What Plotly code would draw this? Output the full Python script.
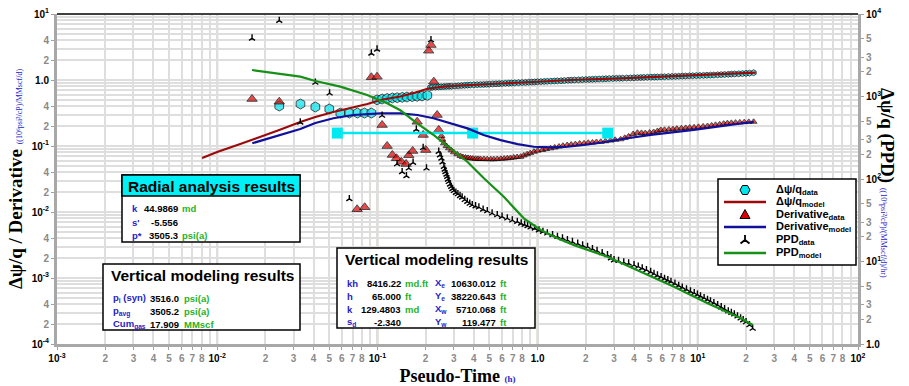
import plotly.graph_objects as go

# ---------------- data ----------------
dpq_data_x = [0.0244, 0.0331, 0.041, 0.0501, 0.0587, 0.0668, 0.075, 0.083, 0.0917,
              0.0995, 0.107, 0.115, 0.124, 0.133, 0.143, 0.153, 0.165, 0.177, 0.190, 0.205,
              0.214, 0.22, 0.23, 0.24, 0.25, 0.26, 0.27, 0.28, 0.29, 0.305, 0.32, 0.335, 0.35,
              0.365, 0.38, 0.40, 0.42, 0.44, 0.46, 0.48, 0.5, 0.525, 0.55, 0.575, 0.6, 0.63,
              0.66, 0.69, 0.72, 0.76, 0.8, 0.84, 0.88, 0.92, 0.96, 1.0, 1.05, 1.1, 1.15, 1.21,
              1.27, 1.33, 1.4, 1.47, 1.55, 1.62, 1.7, 1.8, 1.9, 2.0, 2.1, 2.2, 2.3, 2.42, 2.55,
              2.67, 2.8, 2.95, 3.1, 3.25, 3.4, 3.6, 3.8, 4.0, 4.2, 4.4, 4.6, 4.85, 5.1, 5.35,
              5.6, 5.9, 6.2, 6.55, 6.9, 7.25, 7.6, 8.0, 8.4, 8.85, 9.3, 9.8, 10.3, 10.85, 11.4,
              12.0, 12.6, 13.3, 14.0, 14.7, 15.5, 16.2, 17.0, 18.0, 19.0, 20.0, 21.0, 22.3]
dpq_data_y = [0.404, 0.433, 0.39, 0.364, 0.316, 0.316, 0.316, 0.316, 0.316,
              0.50, 0.515, 0.525, 0.535, 0.54, 0.546, 0.552, 0.56, 0.566, 0.573, 0.585,
              0.77, 0.775, 0.78, 0.785, 0.79, 0.795, 0.80, 0.803, 0.805, 0.81, 0.815, 0.822, 0.83,
              0.835, 0.84, 0.845, 0.85, 0.852, 0.855, 0.86, 0.865, 0.87, 0.875, 0.88, 0.885, 0.89,
              0.895, 0.9, 0.905, 0.91, 0.915, 0.92, 0.925, 0.93, 0.935, 0.94, 0.945, 0.95, 0.955, 0.96,
              0.965, 0.97, 0.975, 0.982, 0.99, 0.995, 1.0, 1.005, 1.01, 1.015, 1.02, 1.025, 1.03, 1.035, 1.04,
              1.045, 1.05, 1.055, 1.06, 1.062, 1.065, 1.07, 1.075, 1.08, 1.085, 1.09, 1.095, 1.1, 1.105, 1.108,
              1.11, 1.115, 1.12, 1.125, 1.13, 1.135, 1.14, 1.145, 1.15, 1.155, 1.16, 1.165, 1.17, 1.175, 1.18,
              1.185, 1.19, 1.198, 1.205, 1.212, 1.22, 1.228, 1.235, 1.242, 1.25, 1.26, 1.27, 1.29]

dpq_model_x = [0.00805, 0.01, 0.01393, 0.01858, 0.0244, 0.033, 0.041, 0.0531, 0.0678, 0.0866,
               0.1045, 0.139, 0.173, 0.208, 0.266, 0.365, 0.588, 0.944, 1.61, 3.30, 5.87, 10.0,
               16.1, 23.0]
dpq_model_y = [0.0658, 0.0811, 0.107, 0.137, 0.175, 0.231, 0.275, 0.327, 0.377, 0.433,
               0.498, 0.562, 0.647, 0.743, 0.798, 0.840, 0.885, 0.933, 1.0, 1.062, 1.117, 1.17,
               1.233, 1.29]

deriv_data_x = [0.0165, 0.0244, 0.0747, 0.0833, 0.0917, 0.0995, 0.107, 0.115, 0.124, 0.1315,
                0.141, 0.151, 0.157, 0.166, 0.177, 0.193, 0.2005, 0.209, 0.216, 0.225, 0.236,
                0.2415,
                0.251, 0.255, 0.26, 0.27, 0.279, 0.29, 0.300, 0.315, 0.33, 0.342, 0.355, 0.368,
                0.381, 0.395, 0.41, 0.425, 0.44, 0.462, 0.485, 0.51, 0.533, 0.56, 0.59, 0.618,
                0.647, 0.678, 0.71, 0.745, 0.784, 0.82, 0.86, 0.90, 0.949, 1.0, 1.07, 1.13, 1.205,
                1.28, 1.36, 1.44, 1.53, 1.62, 1.72, 1.83, 1.95, 2.07, 2.2, 2.33, 2.48, 2.65, 2.85,
                3.05, 3.3, 3.5, 3.7, 3.95, 4.2, 4.45, 4.7, 5.0, 5.3, 5.6, 5.87, 6.2, 6.6, 7.0, 7.4,
                7.9, 8.4, 8.9, 9.48, 10.1, 10.8, 11.5, 12.2, 12.9, 13.7, 14.5, 15.3, 16.2, 17.2,
                18.3, 19.5, 20.8, 22.3]
deriv_data_y = [0.515, 0.469, 0.0110, 0.0118, 1.10, 1.12, 0.208, 0.100, 0.0731, 0.0652,
                0.0578, 0.0534, 0.0723, 0.0840, 0.233, 0.147, 0.0869, 2.78, 3.39, 0.942, 0.295,
                0.175,
                0.142, 0.125, 0.110, 0.100, 0.0923, 0.086, 0.0803, 0.075, 0.0705, 0.068, 0.067, 0.066,
                0.0651, 0.0645, 0.064, 0.0638, 0.0636, 0.0634, 0.0632, 0.063, 0.063, 0.0635, 0.064, 0.0645,
                0.0652, 0.066, 0.067, 0.068, 0.0689, 0.072, 0.075, 0.078, 0.082, 0.085, 0.087, 0.09, 0.0922,
                0.095, 0.098, 0.101, 0.1035, 0.105, 0.107, 0.109, 0.110, 0.112, 0.113, 0.115, 0.116, 0.118, 0.121,
                0.124, 0.1264, 0.133, 0.14, 0.152, 0.159, 0.158, 0.157, 0.160, 0.163, 0.169, 0.175, 0.176, 0.178,
                0.18, 0.183, 0.186, 0.188, 0.19, 0.192, 0.195, 0.198, 0.201, 0.205, 0.209, 0.213, 0.218, 0.222,
                0.224, 0.226, 0.228, 0.230, 0.232, 0.233]

deriv_model_x = [0.01656, 0.02143, 0.0330, 0.0410, 0.0531, 0.0708, 0.1045, 0.139, 0.178, 0.224,
                 0.286, 0.365, 0.460, 0.588, 0.750, 0.944, 1.205, 1.54, 1.94, 2.48, 3.30, 5.08,
                 9.44, 15.0, 22.4]
deriv_model_y = [0.110, 0.132, 0.181, 0.223, 0.263, 0.295, 0.313, 0.313, 0.295, 0.263,
                 0.221, 0.185, 0.147, 0.123, 0.107, 0.0975, 0.0955, 0.0975, 0.1035, 0.112, 0.1265, 0.147,
                 0.175, 0.205, 0.233]

ppd_data_x = [0.0165, 0.0244, 0.033, 0.041, 0.0503, 0.0668, 0.0917, 0.0995, 0.107, 0.1327,
              0.1427, 0.1518, 0.157, 0.167, 0.175, 0.193, 0.2025, 0.216,
              0.2415, 0.246, 0.251, 0.255, 0.26, 0.263, 0.266, 0.27, 0.273, 0.276, 0.279, 0.284,
              0.289, 0.294, 0.300, 0.309, 0.318, 0.328, 0.338, 0.351, 0.364, 0.377, 0.391, 0.41,
              0.43, 0.457, 0.485, 0.52, 0.56, 0.60, 0.647, 0.695, 0.747, 0.79, 0.83, 0.866, 0.904,
              0.96, 1.02, 1.08, 1.15, 1.24, 1.33, 1.43, 1.535, 1.65, 1.78, 1.91, 2.05, 2.2, 2.35,
              2.53, 2.73, 2.87, 3.0, 3.2, 3.45, 3.7, 4.0, 4.25, 4.5, 4.78, 5.08, 5.33, 5.6, 5.9,
              6.2, 6.5, 6.8, 7.2, 7.6, 8.0, 8.5, 9.0, 9.5, 9.95, 10.4, 10.95, 11.5, 12.0, 12.6,
              13.3, 14.0, 14.7, 15.5, 16.2, 16.9, 17.7, 18.5, 19.2, 20.0, 21.0, 22.0]
ppd_data_y = [5070, 8300, 486, 1479, 1094, 57.3, 3333, 3733, 589, 152,
              122, 109, 135, 158, 400, 239, 135, 4840,
              215, 195, 178, 160, 141, 131, 122, 114, 107, 99, 92.7, 86,
              80.7, 76, 72.1, 68.5, 65.8, 62.5, 60.0, 56.0, 53.1, 50.5, 48.4, 47.0,
              45.4, 42.8, 40.9, 38.4, 36.6, 35.0, 33.4, 31.6, 30.4, 29.0, 28.0, 27.0, 26.0,
              25.2, 24.0, 23.0, 22.0, 21.0, 20.0, 19.2, 18.2, 17.3, 16.5, 15.7, 15.1, 14.2, 13.5,
              12.7, 12.0, 11.0, 10.4, 10.2, 9.8, 9.5, 9.07, 8.7, 8.3, 7.9, 7.5, 7.1, 6.8, 6.5,
              6.2, 5.95, 5.7, 5.4, 5.1, 4.85, 4.6, 4.35, 4.15, 3.97, 3.8, 3.62, 3.45, 3.3, 3.15,
              2.97, 2.8, 2.65, 2.5, 2.4, 2.3, 2.17, 2.05, 1.95, 1.85, 1.7, 1.54]

ppd_model_x = [0.0165, 0.033, 0.041, 0.0587, 0.0863, 0.115, 0.139, 0.177, 0.225, 0.286,
               0.364, 0.462, 0.615, 0.82, 1.045, 1.33, 1.69, 2.73, 4.4, 7.1, 11.5, 18.6, 22.0]
ppd_model_y = [2095, 1738, 1542, 1316, 1042, 828, 681, 473, 341, 236,
               162, 102, 61, 33.4, 24.1, 19.1, 15.8, 11.4, 7.52, 4.94, 3.11, 2.05, 1.70]

radial_x = [0.0562, 0.393, 2.74]
radial_y = [0.157, 0.157, 0.157]

legend_labels = ["Δψ/q<sub>data</sub>", "Δψ/q<sub>model</sub>", "Derivative<sub>data</sub>",
                 "Derivative<sub>model</sub>", "PPD<sub>data</sub>", "PPD<sub>model</sub>"]

# ---------------- helpers ----------------
W, H = 909, 386
L, R, T, B = 57, 858, 14, 344
FONT = "Liberation Sans"
SERIF = "Liberation Serif"
BLUE = "#2323c8"
GREEN = "#1fb31f"
GREY = "#8a8a8a"
C_DPQ = "#00e5ee"
C_DPQ_M = "#9b0a0a"
C_DER = "#e00000"
C_DER_M = "#10109a"
C_PPD_M = "#169016"


def px(x):
    return (x - L) / (R - L)


def py(y):
    return (B - y) / (B - T)


def sup(e):
    return "10<sup>%s</sup>" % e


def grey(s):
    return "<span style='color:%s'>%s</span>" % (GREY, s)


# x ticks
x_vals, x_text, x_minor = [], [], []
dec_lbl = {-3: sup("-3"), -2: sup("-2"), -1: sup("-1"), 0: "1.0", 1: sup("1"), 2: sup("2")}
for k in range(-3, 3):
    x_vals.append(10.0 ** k)
    x_text.append(dec_lbl[k])
    if k < 2:
        for d in range(2, 10):
            if d <= 8:
                x_vals.append(d * 10.0 ** k)
                x_text.append(grey(str(d)))
            else:
                x_minor.append(d * 10.0 ** k)

# left y ticks
yl_vals, yl_text, yl_minor = [], [], []
ydec = {1: sup("1"), 0: "1.0", -1: sup("-1"), -2: sup("-2"), -3: sup("-3"), -4: sup("-4")}
for k in range(-4, 2):
    yl_vals.append(10.0 ** k)
    yl_text.append(ydec[k])
    if k < 1:
        for d in range(2, 10):
            if d in (2, 4):
                yl_vals.append(d * 10.0 ** k)
                yl_text.append(grey(str(d)))
            else:
                yl_minor.append(d * 10.0 ** k)

# right y ticks
yr_vals, yr_text = [], []
rdec = {0: "1.0", 1: sup("1"), 2: sup("2"), 3: sup("3"), 4: sup("4")}
for k in range(0, 5):
    yr_vals.append(10.0 ** k)
    yr_text.append(rdec[k])
    if k < 4:
        for d in (2, 3, 5):
            yr_vals.append(d * 10.0 ** k)
            yr_text.append(grey(str(d)))

fig = go.Figure()

dpq_sizes = [10 if x < 0.21 else 6 for x in dpq_data_x]
fig.add_trace(go.Scatter(x=dpq_data_x, y=dpq_data_y, mode="markers", name=legend_labels[0],
                         showlegend=False,
                         marker=dict(symbol="hexagon", size=dpq_sizes, color=C_DPQ,
                                     line=dict(color="black", width=1))))
der_sizes = [9 if (x < 0.245) else 6 for x in deriv_data_x]
fig.add_trace(go.Scatter(x=deriv_data_x, y=deriv_data_y, mode="markers", name=legend_labels[2],
                         showlegend=False,
                         marker=dict(symbol="triangle-up", size=der_sizes, color=C_DER,
                                     line=dict(color="black", width=1))))
fig.add_trace(go.Scatter(x=radial_x, y=radial_y, mode="lines+markers", showlegend=False,
                         line=dict(color="#00e8f0", width=2.5),
                         marker=dict(symbol="square", size=11, color="#00e8f0")))
fig.add_trace(go.Scatter(x=dpq_model_x, y=dpq_model_y, mode="lines", name=legend_labels[1],
                         showlegend=False, line=dict(color=C_DPQ_M, width=2.2)))
fig.add_trace(go.Scatter(x=deriv_model_x, y=deriv_model_y, mode="lines", name=legend_labels[3],
                         showlegend=False, line=dict(color=C_DER_M, width=2.2)))
fig.add_trace(go.Scatter(x=ppd_data_x, y=ppd_data_y, mode="markers", yaxis="y2",
                         name=legend_labels[4], showlegend=False,
                         marker=dict(symbol="y-up", size=5, color="black",
                                     line=dict(color="black", width=1.4))))
fig.add_trace(go.Scatter(x=ppd_model_x, y=ppd_model_y, mode="lines", yaxis="y2",
                         name=legend_labels[5], showlegend=False,
                         line=dict(color=C_PPD_M, width=2.2)))

tickfont = dict(family=FONT, size=10, color="black", weight="bold")
minor_grid = "#dedede"

fig.update_layout(
    width=W, height=H,
    margin=dict(l=L, r=W - R, t=T, b=H - B, autoexpand=False),
    paper_bgcolor="white", plot_bgcolor="white",
    font=dict(family=FONT, color="black"),
    xaxis=dict(type="log", range=[-3, 2], tickmode="array", tickvals=x_vals, ticktext=x_text,
               tickfont=tickfont, showgrid=True, gridcolor=minor_grid, gridwidth=1.5,
               ticks="outside", ticklen=3, tickcolor="#a0a0a0", automargin=False,
               showline=True, linecolor="#a8a8a8", linewidth=3, zeroline=False,
               minor=dict(tickmode="array", tickvals=x_minor, showgrid=True,
                          gridcolor=minor_grid, gridwidth=1.5, ticks=""),
               title=dict(text="<b>Pseudo-Time</b> <span style='font-size:9px;color:#2323c8'><b>(h)</b></span>",
                          font=dict(family=SERIF, size=18, color="black"), standoff=10)),
    yaxis=dict(type="log", range=[-4, 1], tickmode="array", tickvals=yl_vals, ticktext=yl_text,
               tickfont=tickfont, showgrid=True, gridcolor=minor_grid, gridwidth=1.5,
               ticks="outside", ticklen=3, tickcolor="#a0a0a0", automargin=False,
               showline=True, linecolor="#a8a8a8", linewidth=3, zeroline=False,
               minor=dict(tickmode="array", tickvals=yl_minor, showgrid=True,
                          gridcolor=minor_grid, gridwidth=1.5, ticks=""),
               title=dict(text="<b>Δψ/q / Derivative</b> <span style='font-size:8px;color:#2323c8'>((10⁶psi²/cP)/MMscf/d)</span>",
                          font=dict(family=SERIF, size=19, color="black"), standoff=4)),
    yaxis2=dict(type="log", range=[0, 4], overlaying="y", side="right", tickmode="array",
                tickvals=yr_vals, ticktext=yr_text, tickfont=tickfont, showgrid=False,
                ticks="outside", ticklen=3, tickcolor="#a0a0a0", automargin=False,
                showline=True, linecolor="#a8a8a8", linewidth=3, zeroline=False),
    showlegend=False,
)

shapes = []
for f in (0.2, 0.4, 0.6, 0.8):
    shapes.append(dict(type="line", xref="paper", yref="paper", x0=f, x1=f, y0=0, y1=1,
                       line=dict(color="#c4bcaa", width=2), layer="between"))
    shapes.append(dict(type="line", xref="paper", yref="paper", x0=0, x1=1, y0=f, y1=f,
                       line=dict(color="#c4bcaa", width=2), layer="between"))
shapes.append(dict(type="line", xref="paper", yref="paper", x0=0, x1=1, y0=1, y1=1,
                   line=dict(color="#404040", width=2)))

annotations = []


def box(x0, y0, x1, y1, fill="white"):
    shapes.append(dict(type="rect", xref="paper", yref="paper", x0=px(x0), x1=px(x1),
                       y0=py(y1), y1=py(y0), fillcolor=fill,
                       line=dict(color="black", width=1.5), layer="above"))


def txt(x, y, s, color="black", size=9.5, anchor="left"):
    annotations.append(dict(x=px(x), y=py(y), xref="paper", yref="paper", text=s,
                            showarrow=False, xanchor=anchor, yanchor="middle", borderpad=0,
                            font=dict(family=FONT, size=size, color=color, weight="bold")))


def path_shape(points, fill, line_color, width=1.0, closed=True):
    d = "M" + " L".join("%.5f,%.5f" % (px(a), py(b)) for a, b in points)
    if closed:
        d += " Z"
    shapes.append(dict(type="path", xref="paper", yref="paper", path=d,
                       fillcolor=fill, line=dict(color=line_color, width=width), layer="above"))


# Radial analysis box
box(122, 175, 300, 242)
box(122, 175, 300, 196, fill="#00f0f5")
txt(211, 186, "Radial analysis results", size=15.5, anchor="center")
txt(131, 209, "k", BLUE)
txt(179, 209, "44.9869", anchor="right")
txt(181, 209, "md", GREEN)
txt(131, 222, "s'", BLUE)
txt(179, 222, "-5.556", anchor="right")
txt(131, 235, "p*", BLUE)
txt(179, 235, "3505.3", anchor="right")
txt(181, 235, "psi(a)", GREEN)

# Vertical modeling (left)
box(103, 264, 300, 330)
txt(202, 275, "Vertical modeling results", size=15.5, anchor="center")
txt(112, 298, "p<sub>i</sub> (syn)", BLUE)
txt(180, 298, "3516.0", anchor="right")
txt(183, 298, "psi(a)", GREEN)
txt(112, 311, "p<sub>avg</sub>", BLUE)
txt(180, 311, "3505.2", anchor="right")
txt(183, 311, "psi(a)", GREEN)
txt(112, 324, "Cum<sub>gas</sub>", BLUE)
txt(180, 324, "17.909", anchor="right")
txt(183, 324, "MMscf", GREEN)

# Vertical modeling (middle)
box(337, 248, 535, 328)
txt(436, 259, "Vertical modeling results", size=15.5, anchor="center")
rows = [283, 296, 309, 322]
c1 = ["kh", "h", "k", "s<sub>d</sub>"]
v1 = ["8416.22", "65.000", "129.4803", "-2.340"]
u1 = ["md.ft", "ft", "md", ""]
c2 = ["X<sub>e</sub>", "Y<sub>e</sub>", "X<sub>w</sub>", "Y<sub>w</sub>"]
v2 = ["10630.012", "38220.643", "5710.068", "119.477"]
for i, yy in enumerate(rows):
    txt(346, yy, c1[i], BLUE)
    txt(402, yy, v1[i], anchor="right")
    if u1[i]:
        txt(404, yy, u1[i], GREEN)
    txt(434, yy, c2[i], BLUE)
    txt(497, yy, v2[i], anchor="right")
    txt(499, yy, "ft", GREEN)

# legend (drawn as a keyed box)
box(718, 179, 856, 265)
lrows = [190, 202, 214.5, 227, 240, 253]
cx = 745
hex_pts = [(cx - 5, lrows[0]), (cx - 2.5, lrows[0] - 4.5), (cx + 2.5, lrows[0] - 4.5),
           (cx + 5, lrows[0]), (cx + 2.5, lrows[0] + 4.5), (cx - 2.5, lrows[0] + 4.5)]
path_shape(hex_pts, C_DPQ, "black", 1)
path_shape([(cx - 5, lrows[2] + 4), (cx + 5, lrows[2] + 4), (cx, lrows[2] - 5)], C_DER, "black", 1)
yy = lrows[4]
path_shape([(cx, yy), (cx, yy - 5), (cx, yy), (cx - 4.5, yy + 3.5), (cx, yy), (cx + 4.5, yy + 3.5)],
           "rgba(0,0,0,0)", "black", 1.8, closed=False)
for r_i, col in ((1, C_DPQ_M), (3, C_DER_M), (5, C_PPD_M)):
    shapes.append(dict(type="line", xref="paper", yref="paper", x0=px(724), x1=px(766),
                       y0=py(lrows[r_i]), y1=py(lrows[r_i]), line=dict(color=col, width=2.5),
                       layer="above"))
for lab, yy in zip(legend_labels, lrows):
    txt(775, yy, lab, size=11)

# right axis title (reads top to bottom)
annotations.append(dict(x=px(887), y=py(183), xref="paper", yref="paper", showarrow=False,
                        textangle=90, xanchor="center", yanchor="middle",
                        text="<b>Δψ/q (PPD)</b> <span style='font-size:8px;color:#2323c8'>((10⁶psi²/cP)/(MMscf/d)/hr)</span>",
                        font=dict(family=SERIF, size=19, color="black")))

fig.update_layout(shapes=shapes, annotations=annotations)
fig.write_html("out.html", config={"displayModeBar": False},
               post_script="document.body.style.margin='0px';")
